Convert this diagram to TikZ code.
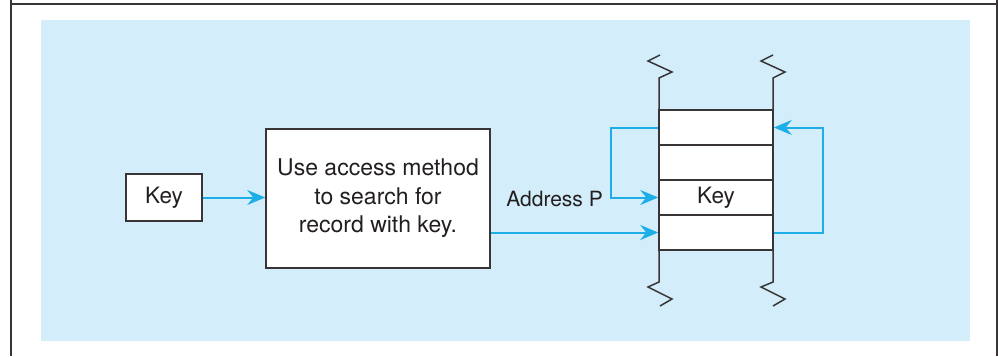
\documentclass[tikz,border=0pt]{standalone}
\usepackage{fontspec}
\setmainfont{TeX Gyre Heros}
\usetikzlibrary{arrows.meta}
\definecolor{bgblue}{HTML}{D3EEFA}
\definecolor{arrowblue}{HTML}{1DAEE8}
\definecolor{ink}{HTML}{231F20}
\begin{document}
\begin{tikzpicture}[x=1pt,y=-1pt,
  box/.style={draw=ink!90,line width=1.5pt,fill=white,text=ink,inner sep=0pt,align=center},
  cell/.style={box,minimum width=114pt,minimum height=35pt,font=\fontsize{22}{26}\selectfont},
  link/.style={draw=arrowblue,line width=2pt,-{Stealth[length=18pt,width=15pt,inset=6pt]}},
  wall/.style={draw=ink!90,line width=1.5pt,line join=miter}]
\useasboundingbox (0,0) rectangle (998,356);
\fill[white] (0,0) rectangle (998,356);
% frame
\draw[ink!90,line width=2pt] (11,4) -- (998,4);
\draw[ink!90,line width=2.5pt] (11,0) -- (11,356);
\draw[ink!90,line width=2pt] (997,0) -- (997,356);
% background panel
\fill[bgblue] (41,20) rectangle (970,341);
% stack walls
\draw[wall] (660,55) -- (648,61) -- (672,72) -- (659,78) -- (659,282) -- (648,287) -- (672,299) -- (660,306);
\draw[wall] (773,55) -- (761,61) -- (785,72) -- (773,78) -- (773,282) -- (761,287) -- (785,299) -- (773,306);
% nodes
\node[box,minimum width=76pt,minimum height=47pt,font=\fontsize{22.5}{26}\selectfont] (key) at (164,197.5) {\raisebox{-1pt}{Key}};
\node[box,minimum width=224pt,minimum height=139pt,font=\fontsize{23}{28.5}\selectfont] (method) at (378,198.5) {Use access method\\to search for\\record with key.};
\node[cell] (r1) at (716,127.5) {};
\node[cell] (r2) at (716,162.5) {};
\node[cell,font=\fontsize{22.5}{26}\selectfont] (r3) at (716,197.5) {Key};
\node[cell] (r4) at (716,232.5) {};
\node[text=ink,font=\fontsize{21}{25}\selectfont,anchor=east,inner sep=0pt] (addr) at (603,199) {Address P};
% connectors
\draw[link] (key.east) -- (method.west |- key.east);
\draw[link] (r1.west) -- ++(-47,0) |- (r3.west);
\draw[link] (method.east |- r4.west) -- (r4.west);
\draw[link] (r4.east) -- ++(49,0) |- (r1.east);
\end{tikzpicture}
\end{document}
